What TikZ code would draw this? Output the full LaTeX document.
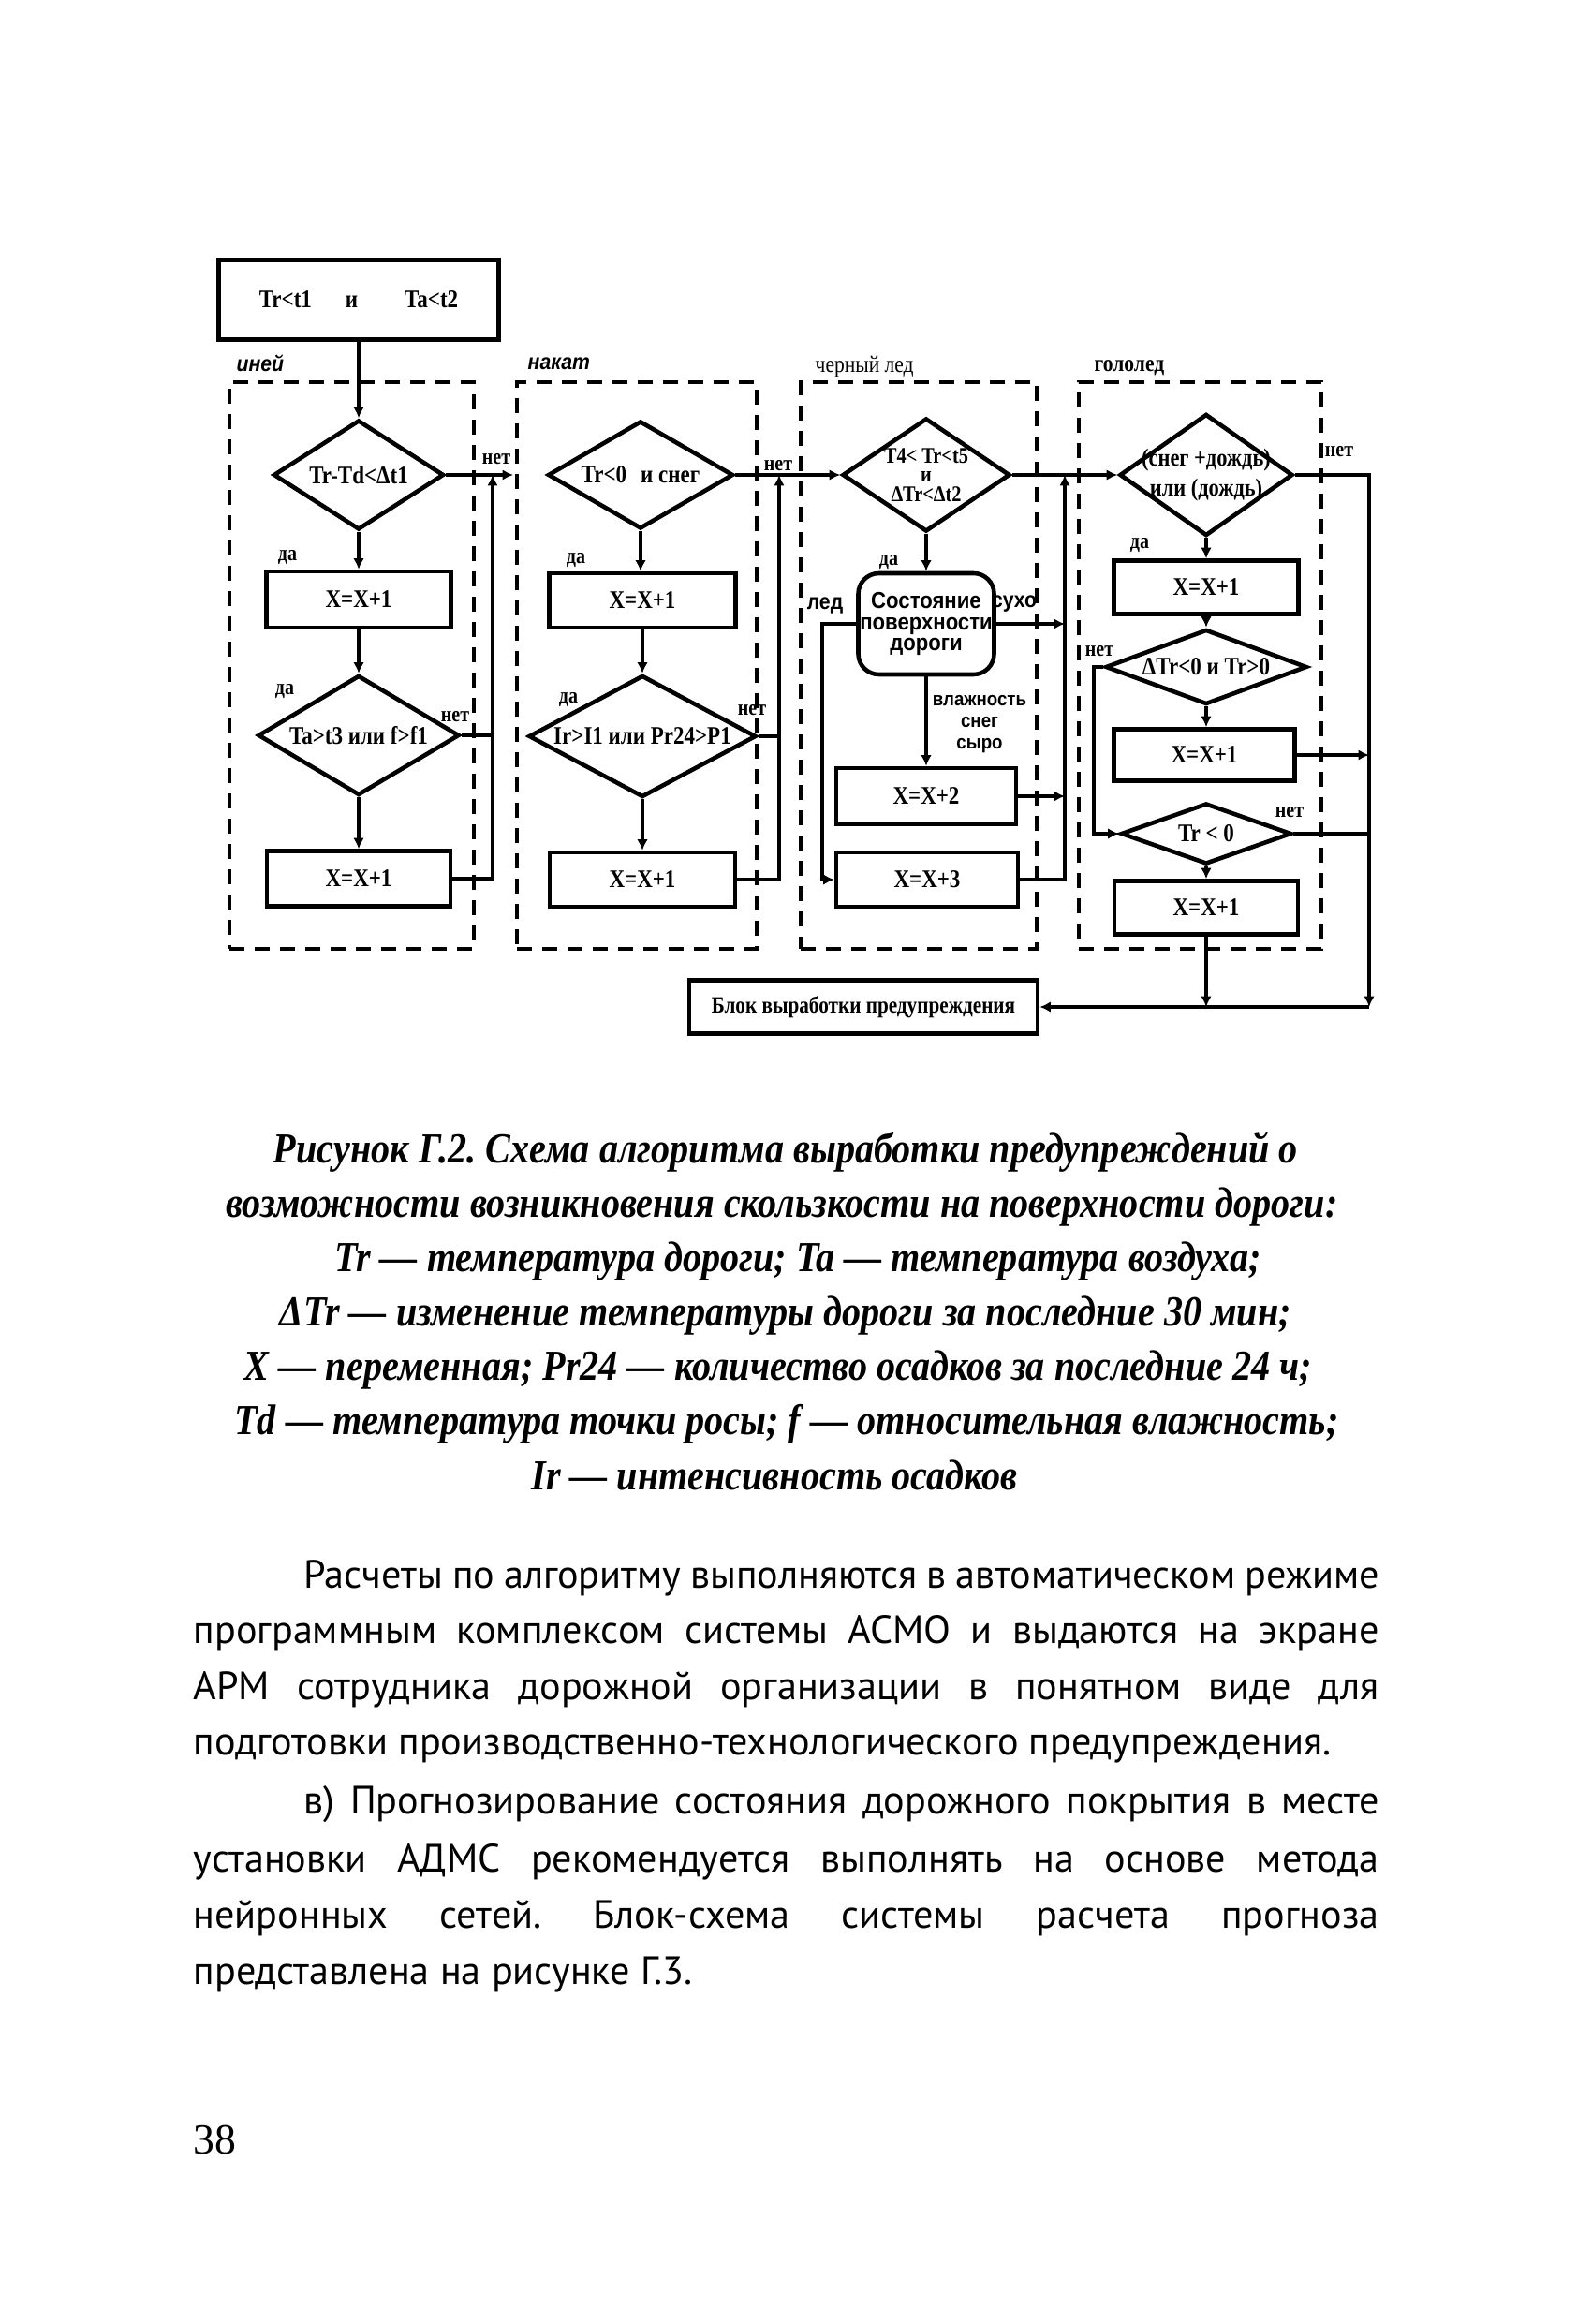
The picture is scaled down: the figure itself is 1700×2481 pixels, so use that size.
\documentclass[tikz,border=0pt]{standalone}
\usepackage{fontspec}
\setmainfont{Liberation Serif}
\newfontfamily\bodyfont{PT Sans}
\newfontfamily\capfont[FakeStretch=0.88]{Liberation Serif}
\newfontfamily\dfont[FakeStretch=0.85]{Liberation Serif}
\newfontfamily\dsans[FakeStretch=0.9]{Liberation Sans}
\usetikzlibrary{shapes.geometric,arrows.meta}
\frenchspacing
\begin{document}
\begin{tikzpicture}[x=0.1mm,y=-0.1mm,
  ln/.style={line width=1.1pt},
  arr/.style={line width=1.1pt,-{Latex[length=1.15mm,width=1.15mm]}},
  proc/.style={draw,line width=1.3pt,rectangle,inner sep=0pt,font=\dfont\bfseries\fontsize{7.7}{9}\selectfont},
  dec/.style={draw,line width=1.3pt,diamond,inner sep=0pt},
  dtxt/.style={font=\dfont\bfseries\fontsize{7.7}{8}\selectfont,align=center,inner sep=0pt},
  grpframe/.style={draw,line width=1.25pt,dash pattern=on 1.6mm off 1.1mm,inner sep=0pt},
  yn/.style={font=\dfont\bfseries\fontsize{6.7}{7}\selectfont,inner sep=0pt},
  bodytxt/.style={font=\bodyfont\fontsize{12}{14}\selectfont,inner sep=0pt,anchor=base west},
  captxt/.style={font=\capfont\bfseries\itshape\fontsize{13}{15}\selectfont,inner sep=0pt,anchor=base},
]
\fill[white] (0,0) rectangle (1700,2481);
\useasboundingbox (0,0) rectangle (1700,2481);

% group frames
\node[grpframe,minimum width=26.1mm,minimum height=60.5mm] (f1) at (375.5,710.5) {};
\node[grpframe,minimum width=25.6mm,minimum height=60.5mm] (f2) at (680,710.5) {};
\node[grpframe,minimum width=25.2mm,minimum height=60.5mm] (f3) at (981,710.5) {};
\node[grpframe,minimum width=25.9mm,minimum height=60.5mm] (f4) at (1281.5,710.5) {};
\node[anchor=west,inner sep=0pt,font=\dsans\bfseries\itshape\fontsize{6.7}{7}\selectfont] (g1) at (252,388) {иней};
\node[anchor=west,inner sep=0pt,font=\dsans\bfseries\itshape\fontsize{6.7}{7}\selectfont] (g2) at (563,388) {накат};
\node[anchor=west,inner sep=0pt,font=\dfont\fontsize{7.2}{8}\selectfont] (g3) at (870,392) {черный лед};
\node[anchor=west,inner sep=0pt,font=\dfont\bfseries\fontsize{7.2}{8}\selectfont] (g4) at (1168,393) {гололед};

% top box
\node[proc,minimum width=29.9mm,minimum height=8.5mm] (tbox) at (383,320) {Tr<t1\hspace{3.6mm}и\hspace{5mm}Ta<t2};

% column 1
\node[dec,minimum width=18.2mm,minimum height=11.7mm,label={[dtxt]center:Tr-Td<Δt1}] (d1) at (383,507) {};
\node[proc,minimum width=19.7mm,minimum height=6mm] (b1) at (383,640) {X=X+1};
\node[dec,minimum width=21.5mm,minimum height=12.8mm,label={[dtxt]center:Ta>t3 или f>f1}] (d2) at (383,785) {};
\node[proc,minimum width=19.6mm,minimum height=5.9mm] (b2) at (383,938) {X=X+1};

% column 2
\node[dec,minimum width=19.8mm,minimum height=11.5mm,label={[dtxt]center:Tr<0\hspace{1.5mm}и снег}] (d3) at (684,507) {};
\node[proc,minimum width=19.9mm,minimum height=5.8mm] (b3) at (686,641) {X=X+1};
\node[dec,minimum width=24.3mm,minimum height=13mm,label={[dtxt]center:Ir>I1 или Pr24>P1}] (d4) at (686,786) {};
\node[proc,minimum width=19.8mm,minimum height=5.8mm] (b4) at (686,939) {X=X+1};

% column 3
\node[dec,minimum width=17.9mm,minimum height=12.1mm,label={[dtxt,font=\dfont\bfseries\fontsize{6.8}{5.8}\selectfont]center:T4< Tr<t5\\и\\ΔTr<Δt2}] (d5) at (989,507) {};
\node[draw,line width=1.3pt,rounded corners=2.2mm,minimum width=14.5mm,minimum height=10.8mm,inner sep=0pt,align=center,font=\dsans\bfseries\fontsize{7}{6.4}\selectfont] (st) at (989,666) {Состояние\\поверхности\\дороги};
\node[proc,minimum width=19.2mm,minimum height=6mm] (b5) at (989,850) {X=X+2};
\node[proc,minimum width=19.4mm,minimum height=5.8mm] (b6) at (990,939) {X=X+3};

% column 4
\node[dec,minimum width=18.5mm,minimum height=13mm,label={[dtxt,font=\dfont\bfseries\fontsize{7.5}{9}\selectfont]center:(снег +дождь)\\или (дождь)}] (d7) at (1288,507) {};
\node[proc,minimum width=19.7mm,minimum height=5.7mm] (b7) at (1288,627) {X=X+1};
\node[dec,minimum width=21.5mm,minimum height=8mm,label={[dtxt]center:ΔTr<0 и Tr>0}] (d8) at (1288,712) {};
\node[proc,minimum width=19.3mm,minimum height=5.5mm] (b8) at (1286,806) {X=X+1};
\node[dec,minimum width=18.2mm,minimum height=6.5mm,label={[dtxt]center:Tr < 0}] (d9) at (1288,890) {};
\node[proc,minimum width=19.6mm,minimum height=5.7mm] (b9) at (1288,969) {X=X+1};

% output block
\node[proc,minimum width=37.2mm,minimum height=5.7mm,font=\dfont\bfseries\fontsize{7.1}{8}\selectfont] (blk) at (922,1075) {Блок выработки предупреждения};

% helper coordinates
\coordinate (e1) at (548,507);
\coordinate (v1) at (526,507);
\coordinate (v2) at (832,507);
\coordinate (v3) at (1137,507);
\coordinate (v4) at (1462,507);
\coordinate (ice) at (878,666);
\coordinate (k) at (1168,712);
\coordinate (j1) at (1288,1075);
\coordinate (j2) at (1462,1075);

% column 1 connectors
\draw[arr] (tbox.south) -- (d1.north);
\draw[arr] (d1.south) -- (b1.north);
\draw[arr] (b1.south) -- (d2.north);
\draw[arr] (d2.south) -- (b2.north);
\draw[arr] (d1.east) -- (e1);
\draw[arr] (b2.east) -| (v1);
\draw[ln] (d2.east) -- (d2.east -| v1);

% column 2 connectors
\draw[arr] (d3.south) -- (d3.south |- b3.north);
\draw[arr] (b3.south) -- (d4.north);
\draw[arr] (d4.south) -- (b4.north);
\draw[arr] (d3.east) -- (d5.west);
\draw[arr] (b4.east) -| (v2);
\draw[ln] (d4.east) -- (d4.east -| v2);

% column 3 connectors
\draw[arr] (d5.south) -- (st.north);
\draw[arr] (st.south) -- (b5.north);
\draw[arr] (st.west) -- (ice) |- (b6.west);
\draw[arr] (st.east) -- (st.east -| v3);
\draw[arr] (b5.east) -- (b5.east -| v3);
\draw[arr] (b6.east) -| (v3);
\draw[arr] (d5.east) -- (d7.west);

% column 4 connectors
\draw[arr] (d7.south) -- (b7.north);
\draw[arr] (b7.south) -- (d8.north);
\draw[arr] (d8.south) -- (d8.south |- b8.north);
\draw[arr] (d8.west) -- (k) |- (d9.west);
\draw[arr] (b8.east) -- (b8.east -| v4);
\draw[arr] (d9.south) -- (b9.north);
\draw[ln] (d9.east) -- (d9.east -| v4);
\draw[arr] (d7.east) -- (v4) -- (j2);
\draw[arr] (b9.south) -- (j1);
\draw[arr] (j2) -- (blk.east);

% yes / no labels
\node[yn] (y1) at (307,595) {да};
\node[yn] (y2) at (304,738) {да};
\node[yn] (y3) at (615,598) {да};
\node[yn] (y4) at (607,747) {да};
\node[yn] (y5) at (949,600) {да};
\node[yn] (y6) at (1217,582) {да};
\node[yn] (n1) at (530,490) {нет};
\node[yn] (n2) at (486,765) {нет};
\node[yn] (n3) at (831,497) {нет};
\node[yn] (n4) at (803,758) {нет};
\node[yn] (n5) at (1430,482) {нет};
\node[yn] (n6) at (1174,695) {нет};
\node[yn] (n7) at (1377,867) {нет};
\node[yn,font=\dsans\bfseries\fontsize{6.7}{7}\selectfont] (c1) at (881,647) {лед};
\node[yn,font=\dsans\bfseries\fontsize{6.7}{7}\selectfont] (c2) at (1083,645) {сухо};
\node[yn,align=center,font=\dsans\bfseries\fontsize{5.9}{6.6}\selectfont] (c3) at (1046,773) {влажность\\снег\\сыро};

% caption
\node[captxt] (t1) at (839,1241) {Рисунок Г.2. Схема алгоритма выработки предупреждений о};
\node[captxt] (t2) at (835,1299) {возможности возникновения скользкости на поверхности дороги:};
\node[captxt] (t3) at (852,1357) {Tr — температура дороги; Ta — температура воздуха;};
\node[captxt] (t4) at (839,1415) {ΔTr — изменение температуры дороги за последние 30 мин;};
\node[captxt] (t5) at (831,1473) {X — переменная; Pr24 — количество осадков за последние 24 ч;};
\node[captxt] (t6) at (840,1531) {Td — температура точки росы; f — относительная влажность;};
\node[captxt] (t7) at (827,1590) {Ir — интенсивность осадков};

% body text
\node[bodytxt] (p1) at (324,1695) {\makebox[114.8mm][s]{Расчеты по алгоритму выполняются в автоматическом режиме}};
\node[bodytxt] (p2) at (206,1754) {\makebox[126.6mm][s]{программным комплексом системы АСМО и выдаются на экране}};
\node[bodytxt] (p3) at (206,1814) {\makebox[126.6mm][s]{АРМ сотрудника дорожной организации в понятном виде для}};
\node[bodytxt] (p4) at (206,1873) {подготовки производственно-технологического предупреждения.};
\node[bodytxt] (p5) at (324,1936) {\makebox[114.8mm][s]{в) Прогнозирование состояния дорожного покрытия в месте}};
\node[bodytxt] (p6) at (206,1998) {\makebox[126.6mm][s]{установки АДМС рекомендуется выполнять на основе метода}};
\node[bodytxt] (p7) at (206,2058) {\makebox[126.6mm][s]{нейронных сетей. Блок-схема системы расчета прогноза}};
\node[bodytxt] (p8) at (206,2118) {представлена на рисунке Г.3.};
\node[anchor=base west,inner sep=0pt,font=\fontsize{13}{15}\selectfont] (pg) at (206,2299) {38};
\end{tikzpicture}
\end{document}
